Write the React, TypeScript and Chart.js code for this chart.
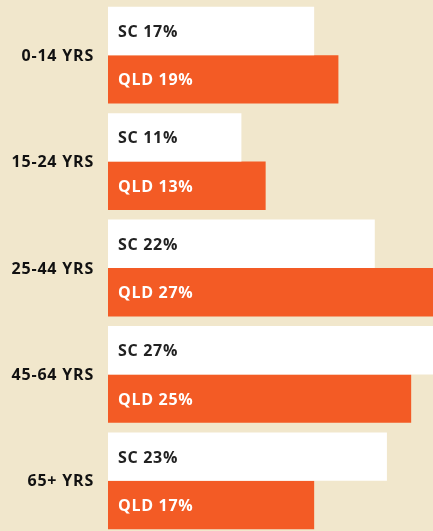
import React, { useEffect, useRef } from "react";
import { Chart, registerables } from "chart.js";

Chart.register(...registerables);

const categories = ["0-14 YRS", "15-24 YRS", "25-44 YRS", "45-64 YRS", "65+ YRS"];
const scValues = [17, 11, 22, 27, 23];
const qldValues = [19, 13, 27, 25, 17];
const seriesNames = ["SC", "QLD"];

const BG = "#f1e7cc";
const ORANGE = "#f35b25";
const FONT = "'Open Sans', 'DejaVu Sans', sans-serif";

const labelsPlugin = {
  id: "barLabels",
  afterDatasetsDraw(chart: any) {
    const ctx = chart.ctx;
    ctx.save();
    ctx.textBaseline = "middle";
    ctx.font = `700 16px ${FONT}`;
    ctx.letterSpacing = "0.7px";
    chart.data.datasets.forEach((ds: any, di: number) => {
      const meta = chart.getDatasetMeta(di);
      meta.data.forEach((bar: any, i: number) => {
        ctx.fillStyle = di === 0 ? "#222222" : "#ffffff";
        ctx.textAlign = "left";
        const left = chart.chartArea.left;
        ctx.fillText(`${seriesNames[di]} ${ds.data[i]}%`, left + 10, bar.y + 1.5);
      });
    });
    // category labels
    const yScale = chart.scales.y;
    ctx.fillStyle = "#111111";
    ctx.font = `700 16px ${FONT}`;
    ctx.letterSpacing = "0.8px";
    ctx.textAlign = "right";
    categories.forEach((c, i) => {
      const y = yScale.getPixelForValue(i);
      ctx.fillText(c, chart.chartArea.left - 14, y + 1);
    });
    ctx.restore();
  },
};

export default function App() {
  const ref = useRef<HTMLCanvasElement | null>(null);
  useEffect(() => {
    document.body.style.margin = "0";
    document.body.style.background = BG;
    const chart = new Chart(ref.current!, {
      type: "bar",
      data: {
        labels: categories,
        datasets: [
          { label: "SC", data: scValues, backgroundColor: "#ffffff", borderWidth: 0 },
          { label: "QLD", data: qldValues, backgroundColor: ORANGE, borderWidth: 0 },
        ],
      },
      options: {
        indexAxis: "y",
        animation: false,
        responsive: false,
        maintainAspectRatio: false,
        categoryPercentage: 0.91,
        barPercentage: 1.0,
        layout: { padding: { left: 108, top: 2, right: 0, bottom: 0 } },
        plugins: { legend: { display: false }, tooltip: { enabled: false } },
        scales: {
          x: { display: false, min: 0, max: 26.8 },
          y: { display: false },
        },
      } as any,
      plugins: [labelsPlugin],
    });
    return () => chart.destroy();
  }, []);
  return (
    <div style={{ position: "fixed", left: 0, top: 0, width: 433, height: 531, overflow: "hidden", background: BG }}>
      <canvas ref={ref} width={433} height={534} style={{ display: "block", width: 433, height: 534 }} />
    </div>
  );
}
